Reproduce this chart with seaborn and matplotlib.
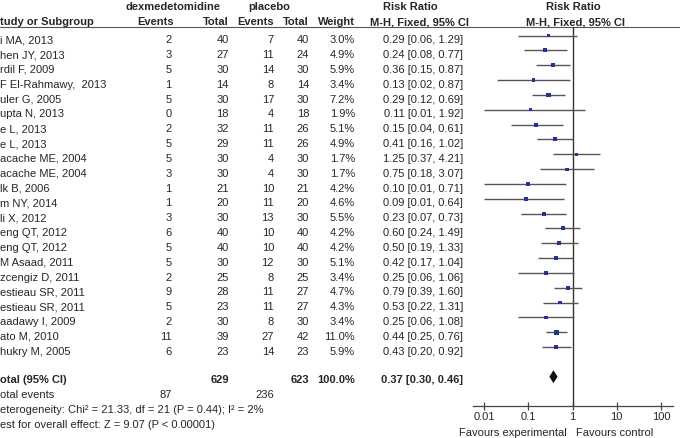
import numpy as np
import pandas as pd
import matplotlib
matplotlib.use("Agg")
import matplotlib.pyplot as plt
import seaborn as sns

studies = ["i MA, 2013", "hen JY, 2013", "rdil F, 2009", "F El-Rahmawy,  2013", "uler G, 2005",
           "upta N, 2013", "e L, 2013", "e L, 2013", "acache ME, 2004", "acache ME, 2004",
           "lk B, 2006", "m NY, 2014", "li X, 2012", "eng QT, 2012", "eng QT, 2012",
           "M Asaad, 2011", "zcengiz D, 2011", "estieau SR, 2011", "estieau SR, 2011",
           "aadawy I, 2009", "ato M, 2010", "hukry M, 2005"]
dex_events = [2, 3, 5, 1, 5, 0, 2, 5, 5, 3, 1, 1, 3, 6, 5, 5, 2, 9, 5, 2, 11, 6]
dex_total = [40, 27, 30, 14, 30, 18, 32, 29, 30, 30, 21, 20, 30, 40, 40, 30, 25, 28, 23, 30, 39, 23]
pla_events = [7, 11, 14, 8, 17, 4, 11, 11, 4, 4, 10, 11, 13, 10, 10, 12, 8, 11, 11, 8, 27, 14]
pla_total = [40, 24, 30, 14, 30, 18, 26, 26, 30, 30, 21, 20, 30, 40, 40, 30, 25, 27, 27, 30, 42, 23]
weights = [3.0, 4.9, 5.9, 3.4, 7.2, 1.9, 5.1, 4.9, 1.7, 1.7, 4.2, 4.6, 5.5, 4.2, 4.2, 5.1, 3.4, 4.7, 4.3, 3.4, 11.0, 5.9]
rr = [0.29, 0.24, 0.36, 0.13, 0.29, 0.11, 0.15, 0.41, 1.25, 0.75, 0.10, 0.09, 0.23, 0.60, 0.50, 0.42, 0.25, 0.79, 0.53, 0.25, 0.44, 0.43]
ci_lo = [0.06, 0.08, 0.15, 0.02, 0.12, 0.01, 0.04, 0.16, 0.37, 0.18, 0.01, 0.01, 0.07, 0.24, 0.19, 0.17, 0.06, 0.39, 0.22, 0.06, 0.25, 0.20]
ci_hi = [1.29, 0.77, 0.87, 0.87, 0.69, 1.92, 0.61, 1.02, 4.21, 3.07, 0.71, 0.64, 0.73, 1.49, 1.33, 1.04, 1.06, 1.60, 1.31, 1.08, 0.76, 0.92]

total_dex, total_pla = 629, 623
total_events_dex, total_events_pla = 87, 236
pooled_rr, pooled_lo, pooled_hi = 0.37, 0.30, 0.46
het_text = "eterogeneity: Chi\u00b2 = 21.33, df = 21 (P = 0.44); I\u00b2 = 2%"
effect_text = "est for overall effect: Z = 9.07 (P < 0.00001)"
xticks = [0.01, 0.1, 1, 10, 100]
xtick_labels = ["0.01", "0.1", "1", "10", "100"]

sns.set_style("white")
plt.rcParams["font.family"] = ["Liberation Sans", "DejaVu Sans"]

W, H = 680, 438
fig = plt.figure(figsize=(6.8, 4.38), dpi=100)
fig.patch.set_facecolor("white")

# text overlay in pixel coordinates
axt = fig.add_axes([0, 0, 1, 1])
axt.set_xlim(0, W)
axt.set_ylim(H, 0)
axt.axis("off")

FS = 8
TC = "#262626"

def t(x, y, s, ha="left", bold=False):
    axt.text(x, y, s, ha=ha, va="baseline", fontsize=FS, color=TC,
             fontweight="bold" if bold else "normal")

# headers
t(172.5, 10.5, "dexmedetomidine", ha="center", bold=True)
t(269, 10.5, "placebo", ha="center", bold=True)
t(410, 10.5, "Risk Ratio", ha="center", bold=True)
t(573, 10.5, "Risk Ratio", ha="center", bold=True)
t(0.5, 25.3, "tudy or Subgroup", bold=True)
t(174, 25.3, "Events", ha="right", bold=True)
t(228.7, 25.3, "Total", ha="right", bold=True)
t(273.5, 25.3, "Events", ha="right", bold=True)
t(309, 25.3, "Total", ha="right", bold=True)
t(355, 25.3, "Weight", ha="right", bold=True)
t(419, 25.3, "M-H, Fixed, 95% CI", ha="center", bold=True)
t(576, 25.3, "M-H, Fixed, 95% CI", ha="center", bold=True)
axt.plot([0, W], [26.6, 26.6], color="#555555", lw=0.8)

row_gap = 14.83
for i in range(len(studies)):
    yb = 43.3 + row_gap * i
    t(0.5, yb, studies[i])
    t(171.7, yb, str(dex_events[i]), ha="right")
    t(228.7, yb, str(dex_total[i]), ha="right")
    t(274, yb, str(pla_events[i]), ha="right")
    t(309.3, yb, str(pla_total[i]), ha="right")
    t(355, yb, f"{weights[i]:.1f}%", ha="right")
    t(463.3, yb, f"{rr[i]:.2f} [{ci_lo[i]:.2f}, {ci_hi[i]:.2f}]", ha="right")

yb = 383.3
t(0.5, yb, "otal (95% CI)", bold=True)
t(228.7, yb, str(total_dex), ha="right", bold=True)
t(309.3, yb, str(total_pla), ha="right", bold=True)
t(355, yb, "100.0%", ha="right", bold=True)
t(463.3, yb, f"{pooled_rr:.2f} [{pooled_lo:.2f}, {pooled_hi:.2f}]", ha="right", bold=True)
t(0.5, 398.3, "otal events")
t(171.7, 398.3, str(total_events_dex), ha="right")
t(274, 398.3, str(total_events_pla), ha="right")
t(0.5, 413.0, het_text)
t(0.5, 427.7, effect_text)
t(512.5, 435.5, "Favours experimental", ha="center")
t(615, 435.5, "Favours control", ha="center")

# forest axes
x0, x1 = 472.7, 672.7
ytop, ybot = 26.6, 406.0
ax = fig.add_axes([x0 / W, (H - ybot) / H, (x1 - x0) / W, (ybot - ytop) / H])
ax.set_facecolor("none")
ax.set_xscale("log")
ax.set_xlim(10 ** -2.257, 10 ** 2.266)
line0 = 35.6
ax.set_ylim((ybot - line0) / row_gap, (ytop - line0) / row_gap)

df = pd.DataFrame({"rr": rr, "lo": ci_lo, "hi": ci_hi, "w": weights,
                   "row": np.arange(len(rr))})
ax.hlines(df["row"], df["lo"], df["hi"], color="#555555", lw=1.0, zorder=2)
sns.scatterplot(data=df, x="rr", y="row", size="w", sizes=(5, 14), marker="s",
                color="#23339a", linewidth=0, legend=False, ax=ax, zorder=3)
ax.axvline(1, color="#333333", lw=1.0, zorder=1)

ytot = 23.0
hh = 6.5 / row_gap
ax.fill([pooled_lo, pooled_rr, pooled_hi, pooled_rr],
        [ytot, ytot - hh, ytot, ytot + hh], color="#111111", lw=0, zorder=4)

for s in ["top", "left", "right"]:
    ax.spines[s].set_visible(False)
ax.spines["bottom"].set_color("#444444")
ax.spines["bottom"].set_linewidth(0.9)
ax.set_xticks(xticks)
ax.set_xticklabels(xtick_labels)
ax.xaxis.set_minor_locator(matplotlib.ticker.NullLocator())
ax.tick_params(axis="x", direction="inout", length=6, width=0.9, color="#444444",
               labelsize=FS, labelcolor=TC, pad=1.5, bottom=True)
ax.set_yticks([])
ax.set_xlabel("")
ax.set_ylabel("")

fig.savefig("out.png", dpi=100, facecolor="white")
